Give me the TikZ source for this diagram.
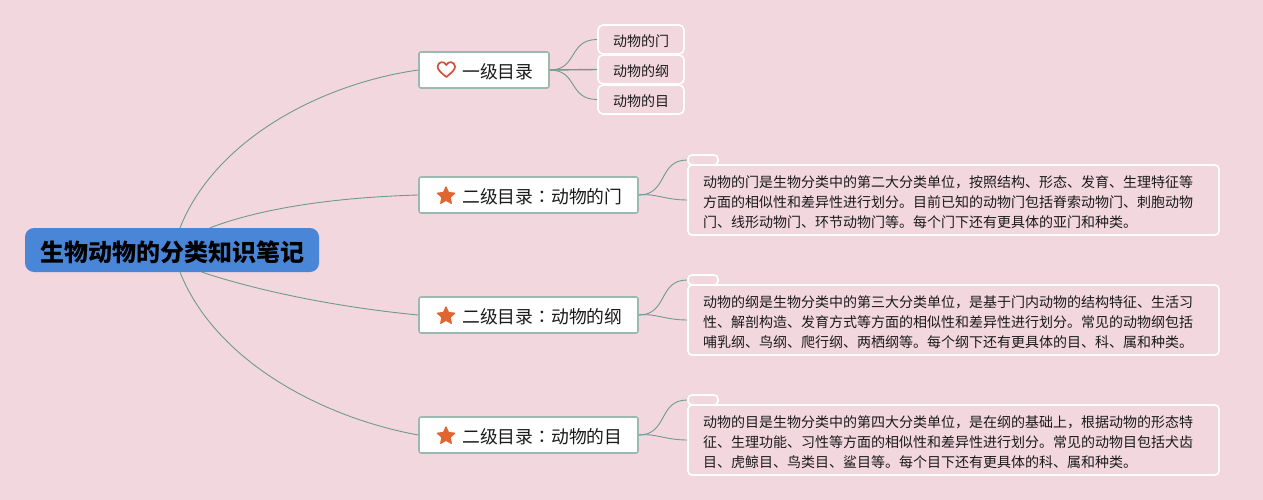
\documentclass[tikz,border=0pt]{standalone}
\usepackage{fontspec}
\setmainfont{Noto Sans CJK SC}
\newfontfamily\tcfont{Noto Sans CJK TC}
\usetikzlibrary{shapes.geometric}
\definecolor{bgc}{HTML}{F2D7DF}
\definecolor{rootc}{HTML}{4A86D8}
\definecolor{linec}{HTML}{6F9A90}
\definecolor{edgec}{HTML}{9DB9AF}
\definecolor{starc}{HTML}{E0652F}
\definecolor{heartc}{HTML}{D0503C}
\definecolor{txtc}{HTML}{1A1A1A}
\newcommand{\paratext}[1]{\raisebox{-6pt}[30pt][30pt]{\parbox{501pt}{#1}}}
\tikzset{
 x=1pt,y=-1pt,
 rootbox/.style={draw=none,fill=rootc,rounded corners=9pt,minimum width=294pt,minimum height=44pt,inner sep=0pt,text height=22.2pt,text depth=0pt,font=\fontsize{24}{28}\selectfont\bfseries,text=black},
 topicbox/.style={draw=edgec,line width=1.6pt,fill=white,rounded corners=2pt,minimum height=36pt,inner sep=0pt},
 topictext/.style={anchor=base west,font=\fontsize{17.8}{22}\selectfont,text=txtc,inner sep=0pt},
 leafbox/.style={draw=white,line width=1.6pt,fill=none,rounded corners=5pt,minimum width=86pt,minimum height=29pt,inner sep=0pt,text height=13.6pt,text depth=0pt,font=\fontsize{14}{16}\selectfont,text=txtc},
 parabox/.style={draw=white,line width=1.6pt,fill=none,rounded corners=4pt,minimum width=531pt,minimum height=70pt,inner sep=0pt,font=\fontsize{14}{20}\selectfont,text=txtc},
 tabbox/.style={draw=white,line width=1.6pt,fill=none,rounded corners=4pt,minimum width=30pt,minimum height=10pt,inner sep=0pt},
 conn/.style={draw=linec,line width=0.9pt},
 starmark/.style={star,star points=5,star point ratio=2.1,fill=starc,draw=starc,line width=1.2pt,line join=round,minimum size=18pt,inner sep=0pt}
}
\begin{document}
\begin{tikzpicture}
\useasboundingbox (0,0) rectangle (1263,500);
\fill[bgc] (0,0) rectangle (1263,500);
\node[topicbox,minimum width=130pt] (t1) at (484,70) {};
\node[topicbox,minimum width=219pt] (t2) at (528.5,195) {};
\node[topicbox,minimum width=219pt] (t3) at (528.5,315) {};
\node[topicbox,minimum width=219pt] (t4) at (528.5,435) {};
\node[leafbox] (l1) at (641,39.5) {动物的门};
\node[leafbox] (l2) at (641,69.5) {动物的纲};
\node[leafbox] (l3) at (641,99.5) {动物的目};
\node[tabbox] (a1) at (703,160) {};
\node[tabbox] (a2) at (703,280) {};
\node[tabbox] (a3) at (703,400) {};
\node[parabox] (p1) at (953.5,200) {\paratext{动物的门是生物分类中的第二大分类单位，按照结构、形态、发育、生理特征等\\方面的相似性和差异性进行划分。目前已知的动物门包括脊索动物门、刺胞动物\\门、线形动物门、环节动物门等。每个门下还有更具体的亚门和种类。}};
\node[parabox] (p2) at (953.5,320) {\paratext{动物的纲是生物分类中的第三大分类单位，是基于门内动物的结构特征、生活习\\性、解剖构造、发育方式等方面的相似性和差异性进行划分。常见的动物纲包括\\哺乳纲、鸟纲、爬行纲、两栖纲等。每个纲下还有更具体的目、科、属和种类。}};
\node[parabox] (p3) at (953.5,440) {\paratext{动物的目是生物分类中的第四大分类单位，是在纲的基础上，根据动物的形态特\\征、生理功能、习性等方面的相似性和差异性进行划分。常见的动物目包括犬齿\\目、虎鲸目、鸟类目、鲨目等。每个目下还有更具体的科、属和种类。}};
\node[rootbox] (root) at (172,250) {生物动物的分类知识笔记};
% root connectors
\draw[conn] ([xshift=8pt]root.north) .. controls (215,140) and (320,84) .. (t1.west);
\draw[conn] ([xshift=38pt]root.north) .. controls (270,205) and (350,197) .. (t2.west);
\draw[conn] ([xshift=30pt]root.south) .. controls (265,293) and (345,308) .. (t3.west);
\draw[conn] ([xshift=8pt]root.south) .. controls (215,360) and (320,417) .. (t4.west);
% leaf connectors
\draw[conn] (t1.east) .. controls (578,70) and (568,39.5) .. (l1.west);
\draw[conn,line width=1.4pt] (t1.east) -- (l2.west);
\draw[conn] (t1.east) .. controls (578,70) and (568,99.5) .. (l3.west);
\draw[conn] (t2.east) .. controls (668,195) and (658,160) .. (a1.west);
\draw[conn] (t2.east) .. controls (655,193) and (665,200) .. (p1.west);
\draw[conn] (t3.east) .. controls (668,315) and (658,280) .. (a2.west);
\draw[conn] (t3.east) .. controls (655,313) and (665,320) .. (p2.west);
\draw[conn] (t4.east) .. controls (668,435) and (658,400) .. (a3.west);
\draw[conn] (t4.east) .. controls (655,433) and (665,440) .. (p3.west);
% labels
\node[topictext] (t1x) at (462,78.5) {一级目录};
\node[topictext] (t2x) at (462,203.5) {二级目录{\tcfont ：}动物的门};
\node[topictext] (t3x) at (462,323.5) {二级目录{\tcfont ：}动物的纲};
\node[topictext] (t4x) at (462,443.5) {二级目录{\tcfont ：}动物的目};
% icons
\draw[heartc,line width=1.7pt,line join=round] (446.3,77) .. controls (441,72.5) and (437.5,70) .. (437.6,66.5) .. controls (438,61.5) and (444.3,60.5) .. (446.3,65) .. controls (448.3,60.5) and (454.6,61.5) .. (455,66.5) .. controls (455.1,70) and (451.6,72.5) .. (446.3,77) -- cycle;
\node[starmark] (s2) at (446,196) {};
\node[starmark] (s3) at (446,316) {};
\node[starmark] (s4) at (446,436) {};
\end{tikzpicture}
\end{document}
